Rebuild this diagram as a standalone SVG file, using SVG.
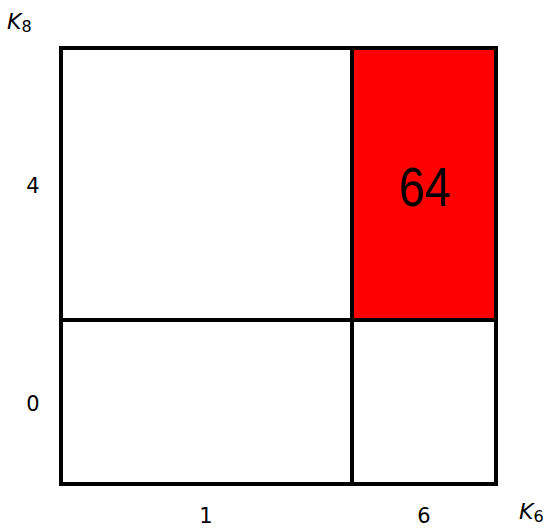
<svg xmlns="http://www.w3.org/2000/svg" width="551" height="528" viewBox="0 0 551 528">
<style>
.ln{stroke:#000;stroke-width:4;fill:none}
.lbl{font-family:"DejaVu Sans",sans-serif;font-size:21px;fill:#000;text-anchor:middle}
.ax{font-family:"DejaVu Sans",sans-serif;font-size:22px;font-style:italic;fill:#000}
.sub{font-family:"DejaVu Sans",sans-serif;font-size:16px;fill:#000}
</style>
<rect width="551" height="528" fill="#fff"/>
<g id="cell-red">
<rect x="352" y="48" width="144" height="272" fill="#ff0000"/>
<text x="425" y="206" font-family="Liberation Sans, sans-serif" font-size="55" text-anchor="middle" textLength="52" lengthAdjust="spacingAndGlyphs">64</text>
</g>
<g id="grid">
<rect class="ln" x="61" y="48" width="435" height="436"/>
<line class="ln" x1="352" y1="48" x2="352" y2="484"/>
<line class="ln" x1="61" y1="320" x2="496" y2="320"/>
</g>
<g id="labels">
<text class="lbl" x="33" y="193">4</text>
<text class="lbl" x="33" y="411">0</text>
<text class="lbl" x="206" y="523">1</text>
<text class="lbl" x="424" y="523">6</text>
<text class="ax" x="7" y="29">K<tspan class="sub" font-style="normal" dy="3">8</tspan></text>
<text class="ax" x="519" y="519">K<tspan class="sub" font-style="normal" dy="3">6</tspan></text>
</g>
</svg>
